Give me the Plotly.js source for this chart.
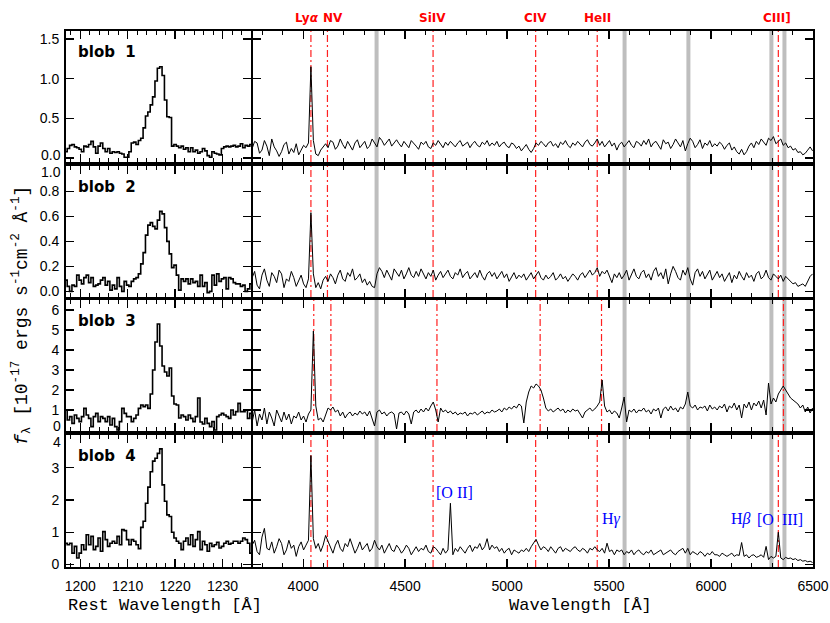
<!DOCTYPE html>
<html><head><meta charset="utf-8">
<script src="https://cdn.plot.ly/plotly-3.0.1.min.js"></script>
<style>html,body{margin:0;padding:0;background:#fff}#chart{width:830px;height:623px}</style>
</head><body><div id="chart"></div>
<script>
// ---- rest-frame Lya cut-outs (left column), start wavelength and bin step in Angstrom ----
const restStart = 1197, restStep = 0.5;
const blob1Rest = [0.08,0.12,0.16,0.17,0.14,0.13,0.11,0.08,0.15,0.14,
0.17,0.21,0.14,0.06,0.15,0.19,0.12,0.08,0.12,0.06,
0.08,0.07,0.08,0.06,0.05,0.01,0.01,0.08,0.19,0.20,
0.17,0.22,0.25,0.38,0.53,0.58,0.67,0.77,0.97,1.13,
1.15,1.04,0.73,0.52,0.51,0.15,0.17,0.15,0.13,0.15,
0.11,0.13,0.08,0.13,0.08,0.10,0.06,0.08,0.12,0.09,
0.03,0.01,0.08,0.06,0.05,0.04,0.12,0.14,0.15,0.14,
0.15,0.16,0.14,0.15,0.18,0.13,0.16,0.15,0.17];
const blob2Rest = [0.09,0.04,0.00,0.05,0.04,0.13,0.09,0.06,0.11,0.13,
0.07,0.11,0.04,0.05,0.06,0.09,0.11,0.05,0.08,0.01,
0.05,0.02,0.11,0.04,0.00,0.08,0.05,0.04,0.08,0.10,
0.11,0.14,0.22,0.31,0.45,0.53,0.55,0.52,0.50,0.57,
0.64,0.62,0.51,0.40,0.30,0.19,0.21,0.13,0.01,0.10,
0.08,0.10,0.06,0.10,0.07,0.08,0.04,0.13,0.04,0.07,
-0.01,0.00,0.13,0.05,0.14,0.08,0.10,0.11,0.02,0.11,
0.10,0.07,0.06,0.06,0.04,0.05,0.00,0.02,0.06];
const blob3Rest = [1.0,0.50,0.67,0.33,0.75,0.58,0.42,0.67,1.08,0.75,
0.58,0.17,0.67,0.83,0.42,0.67,0.58,0.42,0.67,0.25,
0.58,0.17,0.0,0.42,1.08,0.83,0.67,0.67,0.42,0.58,
0.75,1.08,1.25,1.17,1.25,1.08,1.8,3.0,4.4,5.3,
4.2,3.2,2.9,2.7,3.1,1.7,1.3,1.25,0.6,0.75,
0.67,0.5,0.75,0.58,0.42,0.67,1.6,0.4,0.3,0.58,
0.33,0.17,0.42,0.0,0.67,0.75,0.83,0.75,0.67,0.58,
1.0,0.75,0.92,1.33,0.92,0.92,1.0,0.58,0.83];
const blob4Rest = [0.66,0.61,0.66,0.35,0.56,0.20,0.35,0.61,0.46,0.92,
0.61,0.87,0.46,0.56,0.82,0.41,1.02,0.77,0.56,0.66,
0.72,0.66,0.87,0.61,1.08,1.05,0.77,0.61,0.77,0.72,
0.61,0.49,1.15,1.34,1.9,2.4,2.88,3.21,3.3,3.45,
3.59,2.47,1.96,1.54,1.49,1.0,0.82,0.72,0.66,0.46,
0.72,0.82,0.61,0.92,0.56,0.77,1.02,0.46,0.72,0.61,
0.41,0.66,0.56,0.61,0.69,0.51,0.56,0.66,0.72,0.63,
0.66,0.72,0.72,0.66,0.72,0.82,0.77,0.66,0.35];

// ---- observed-frame spectra (right column) ----
const obsStart = 3750, obsStep = 12;
const blob1Obs = [0.12,0.21,0.19,0.06,0.10,0.22,0.15,0.03,0.24,0.14,
0.09,0.02,0.08,0.17,0.20,0.05,0.12,0.07,0.18,0.04,
0.10,0.16,0.13,0.19,1.15,0.22,0.05,0.03,0.10,0.14,
0.18,0.13,0.22,0.20,0.11,0.15,0.24,0.17,0.12,0.21,
0.16,0.10,0.19,0.23,0.13,0.17,0.21,0.12,0.15,0.24,
0.19,0.14,0.26,0.22,0.16,0.20,0.24,0.15,0.19,0.23,
0.18,0.14,0.21,0.17,0.13,0.22,0.19,0.15,0.11,0.20,
0.17,0.21,0.14,0.12,0.19,0.16,0.22,0.18,0.13,0.20,
0.16,0.21,0.18,0.14,0.19,0.22,0.15,0.17,0.20,0.13,
0.18,0.21,0.16,0.14,0.20,0.17,0.22,0.15,0.19,0.16,
0.21,0.14,0.18,0.20,0.15,0.13,0.19,0.17,0.12,0.15,
0.09,0.13,0.17,0.11,0.07,0.12,0.19,0.16,0.21,0.18,
0.14,0.19,0.21,0.15,0.18,0.13,0.20,0.17,0.22,0.16,
0.13,0.19,0.16,0.21,0.18,0.14,0.20,0.23,0.17,0.15,
0.19,0.24,0.16,0.21,0.14,0.18,0.22,0.15,0.19,0.10,
0.17,0.20,0.14,0.18,0.22,0.16,0.13,0.21,0.19,0.15,
0.22,0.17,0.24,0.14,0.19,0.21,0.15,0.11,0.23,0.18,
0.20,0.12,0.17,0.24,0.19,0.14,0.22,0.09,0.18,0.25,
0.21,0.13,0.17,0.23,0.12,0.19,0.16,0.22,0.14,0.18,
0.15,0.20,0.17,0.11,0.16,0.19,0.10,0.14,0.08,0.05,
0.11,0.04,0.08,0.15,0.19,0.13,0.21,0.17,0.24,0.20,
0.16,0.25,0.22,0.27,0.18,0.21,0.24,0.16,0.19,0.13,
0.15,0.10,0.12,0.07,0.08,0.04,0.06,0.10,0.14,0.09];
const blob2Obs = [0.11,0.16,0.05,0.02,0.13,0.18,0.09,0.04,0.15,0.12,
0.07,0.17,0.14,0.03,0.10,0.08,0.16,0.11,0.04,0.09,
0.13,0.06,0.03,0.10,0.63,0.14,0.03,0.07,0.02,0.09,
0.12,0.08,0.14,0.11,0.06,0.13,0.17,0.10,0.08,0.15,
0.12,0.18,0.09,0.11,0.14,0.07,0.10,0.05,0.08,0.04,
0.03,0.14,0.19,0.16,0.11,0.17,0.13,0.09,0.18,0.15,
0.12,0.17,0.10,0.14,0.19,0.13,0.11,0.16,0.12,0.18,
0.14,0.10,0.15,0.12,0.17,0.09,0.13,0.16,0.11,0.14,
0.17,0.12,0.10,0.15,0.13,0.18,0.11,0.14,0.16,0.10,
0.13,0.15,0.11,0.17,0.12,0.09,0.14,0.16,0.12,0.15,
0.10,0.13,0.16,0.11,0.14,0.08,0.12,0.15,0.10,0.13,
0.11,0.14,0.09,0.12,0.15,0.10,0.13,0.16,0.11,0.09,
0.13,0.10,0.12,0.15,0.09,0.11,0.14,0.10,0.12,0.08,
0.11,0.14,0.12,0.09,0.13,0.15,0.11,0.14,0.17,0.13,
0.15,0.19,0.12,0.16,0.14,0.17,0.12,0.07,0.14,0.11,
0.15,0.10,0.13,0.17,0.09,0.14,0.18,0.12,0.10,0.15,
0.17,0.11,0.14,0.09,0.16,0.19,0.12,0.15,0.10,0.18,
0.06,0.14,0.20,0.16,0.11,0.09,0.17,0.13,0.19,0.10,
0.05,0.15,0.18,0.12,0.16,0.10,0.14,0.17,0.09,0.13,
0.16,0.11,0.14,0.08,0.12,0.15,0.07,0.13,0.10,0.16,
0.12,0.09,0.15,0.11,0.13,0.08,0.14,0.16,0.10,0.12,
0.17,0.11,0.09,0.14,0.12,0.10,0.13,0.08,0.12,0.10,
0.08,0.06,0.07,0.04,0.05,0.06,0.04,0.08,0.12,0.14];
const blob3Obs = [0.4,1.0,0.2,0.8,0.5,1.1,0.3,0.9,0.6,0.2,
1.0,0.7,0.4,0.9,0.5,0.8,0.3,0.7,0.6,0.9,
0.5,0.7,0.4,0.8,1.0,4.95,1.2,0.5,0.6,0.4,
0.8,1.1,1.0,1.15,0.9,1.0,0.7,0.9,0.6,0.8,
0.9,0.7,0.85,0.75,0.95,0.8,0.9,0.7,0.95,0.6,
0.2,0.9,1.0,0.8,0.9,0.7,0.85,0.9,0.8,0.05,
0.85,0.9,0.75,0.95,0.8,0.3,0.9,1.0,0.85,1.05,
0.9,1.1,0.95,1.2,1.4,1.0,0.4,1.1,0.9,1.0,
0.85,0.95,0.8,0.9,0.75,0.85,0.8,0.9,0.7,0.85,
0.8,0.9,0.75,0.85,0.95,0.8,0.9,0.85,1.0,0.9,
0.95,1.05,0.9,1.1,1.0,1.15,1.05,1.2,1.1,1.3,
1.2,0.35,1.4,1.9,2.2,2.1,2.3,2.2,2.0,1.6,
1.1,0.95,1.05,0.9,1.0,1.1,0.95,1.05,0.85,1.0,
0.9,1.05,0.95,1.0,0.8,0.6,0.9,1.0,1.1,0.95,
1.05,1.2,1.4,2.5,1.2,0.9,1.0,0.8,0.95,0.85,
0.6,1.1,1.65,0.4,1.0,0.9,1.05,0.85,1.0,0.95,
1.1,0.9,1.0,0.8,1.05,0.95,1.1,0.6,1.05,1.15,
0.95,1.2,1.0,1.1,0.9,1.15,1.05,1.3,1.9,1.2,
1.1,1.25,1.0,1.15,1.1,1.2,0.95,1.25,1.05,1.15,
1.0,1.2,1.1,1.3,0.9,1.2,1.1,1.35,1.0,1.25,
0.6,1.3,1.1,1.4,1.0,1.35,1.2,1.45,1.1,1.5,
0.75,2.35,1.3,1.6,1.4,1.8,2.0,2.2,2.0,1.8,
1.6,1.5,1.4,1.3,1.1,1.25,0.9,1.15,0.85,1.1];
const blob4Obs = [0.6,0.75,0.4,0.3,0.85,1.12,0.5,0.45,0.7,0.35,
0.55,0.8,0.65,0.3,0.45,0.75,0.5,0.6,0.25,0.55,
0.7,0.45,0.6,0.75,3.38,0.8,0.5,0.65,0.4,0.6,
0.9,0.7,0.5,0.35,0.6,0.75,0.5,0.4,0.65,0.55,
0.8,0.6,0.35,0.5,0.7,0.45,0.55,0.65,0.4,0.5,
0.75,0.55,0.45,0.6,0.35,0.5,0.65,0.45,0.4,0.6,
0.5,0.35,0.45,0.6,0.5,0.3,0.45,0.55,0.4,0.5,
0.45,0.6,0.4,0.35,0.55,0.5,0.4,0.3,0.5,0.35,
0.45,1.9,0.3,0.5,0.4,0.55,0.45,0.35,0.5,0.6,
0.4,0.55,0.5,0.65,0.45,0.55,0.8,0.45,0.6,0.5,
0.55,0.4,0.5,0.35,0.45,0.5,0.3,0.45,0.4,0.35,
0.45,0.4,0.5,0.4,0.55,0.65,0.78,0.6,0.45,0.55,
0.5,0.4,0.55,0.45,0.35,0.5,0.55,0.4,0.5,0.45,
0.4,0.5,0.55,0.45,0.4,0.5,0.45,0.35,0.5,0.45,
0.55,0.45,0.4,0.5,0.35,0.66,0.4,0.45,0.3,0.45,
0.4,0.45,0.3,0.4,0.35,0.45,0.3,0.4,0.45,0.35,
0.3,0.4,0.35,0.45,0.3,0.35,0.4,0.45,0.3,0.35,
0.4,0.45,0.35,0.3,0.4,0.45,0.5,0.35,0.5,0.3,
0.4,0.35,0.3,0.4,0.35,0.25,0.35,0.3,0.4,0.3,
0.3,0.25,0.35,0.3,0.25,0.3,0.35,0.25,0.3,0.28,
0.68,0.25,0.3,0.2,0.28,0.3,0.22,0.25,0.3,0.22,
0.56,0.15,0.25,0.2,0.25,1.0,0.2,0.15,0.22,0.18,
0.2,0.15,0.18,0.12,0.15,0.1,0.12,0.08,0.1,0.06];

// ---- features ----
const skyLines = [4360, 5576, 5889, 6296, 6360];
const lineWaveMain = [4038, 4119, 4637, 5140, 5442, 6330];   // blobs 1, 2, 4
const lineWaveBlob3 = [4052, 4136, 4656, 5162, 5463, 6355];  // blob 3
const lineNames = ['Ly<i>α</i>', 'NV', 'SiIV', 'CIV', 'HeII', 'CIII]'];
const lineLabelWave = [4019, 4146, 4635, 5138, 5442, 6325];
const lowzNames = ['[O II]', 'H<i>γ</i>', 'H<i>β</i>', '[O\u00a0\u00a0III]'];
const lowzWave = [4740, 5510, 6145, 6338];
const lowzLevel = [2.23, 1.41, 1.41, 1.41];
const blobNames = ['blob  1', 'blob  2', 'blob  3', 'blob  4'];
const restTickVals = [1200, 1210, 1220, 1230];
const obsTickVals = [4000, 4500, 5000, 5500, 6000, 6500];
// flux tick labels per row ('' = label drawn separately, nudged inside the panel)
const fluxTickVals = [[0, 0.5, 1, 1.5], [0, 0.2, 0.4, 0.6, 0.8, 1], [0, 1, 2, 3, 4, 5, 6], [0, 1, 2, 3, 4]];
const fluxTickText = [['', '0.5', '1.0', '1.5'], ['0.0', '0.2', '0.4', '0.6', '0.8', ''],
                      ['', '1', '2', '3', '4', '5', '6'], ['0', '1', '2', '3', '']];
const edgeLabels = ['0.0', '1.0', '0', '4'];

const restSets = [blob1Rest, blob2Rest, blob3Rest, blob4Rest];
const obsSets = [blob1Obs, blob2Obs, blob3Obs, blob4Obs];
const lineSets = [lineWaveMain, lineWaveMain, lineWaveBlob3, lineWaveMain];

// ---- layout geometry (pixels) ----
const W = 830, H = 623;
const rowTop = [31, 166, 300, 435], rowBot = [162, 297, 431, 567];
const edgeLabelY = [155, 172, 426, 442];
const leftX = [66, 251], rightX = [253, 813];
const yRanges = [[-0.05, 1.6], [-0.045, 1.003], [-0.05, 6.5], [-0.08, 4.02]];
const tickFont = {family: 'Liberation Sans, Arial, sans-serif', size: 14, color: '#000'};

const traces = [], shapes = [], annotations = [];
const layout = {
  width: W, height: H, margin: {l: 0, r: 0, t: 0, b: 0},
  paper_bgcolor: '#fff', plot_bgcolor: '#fff', showlegend: false,
  shapes: shapes, annotations: annotations
};

function axBase() {
  return {showline: true, linecolor: '#000', linewidth: 2, mirror: 'ticks',
    ticks: 'inside', ticklen: 8, tickwidth: 1.3, tickcolor: '#000',
    showgrid: false, zeroline: false, tickfont: tickFont, automargin: false, fixedrange: true};
}

for (let r = 0; r < 4; r++) {
  const iL = 2 * r + 1, iR = 2 * r + 2;
  const yDom = [1 - rowBot[r] / H, 1 - rowTop[r] / H];
  const last = r === 3;
  layout['xaxis' + iL] = Object.assign(axBase(), {
    domain: [leftX[0] / W, leftX[1] / W], range: [1197, 1236], anchor: 'y' + iL,
    tickmode: 'array', tickvals: restTickVals, showticklabels: last, ticklabelstandoff: 5,
    minor: {dtick: 2, tick0: 1200, ticks: 'inside', ticklen: 4, tickcolor: '#000', tickwidth: 1}
  });
  layout['yaxis' + iL] = Object.assign(axBase(), {
    domain: yDom, range: yRanges[r], anchor: 'x' + iL,
    tickmode: 'array', tickvals: fluxTickVals[r], ticktext: fluxTickText[r],
    showticklabels: true, ticklabelstandoff: 2
  });
  layout['xaxis' + iR] = Object.assign(axBase(), {
    domain: [rightX[0] / W, rightX[1] / W], range: [3754, 6500], anchor: 'y' + iR,
    tickmode: 'array', tickvals: obsTickVals, showticklabels: last, ticklabelstandoff: 5,
    minor: {dtick: 100, tick0: 4000, ticks: 'inside', ticklen: 4, tickcolor: '#000', tickwidth: 1}
  });
  layout['yaxis' + iR] = Object.assign(axBase(), {
    domain: yDom, range: yRanges[r], anchor: 'x' + iR,
    tickmode: 'array', tickvals: fluxTickVals[r], showticklabels: false
  });

  traces.push({type: 'scatter', mode: 'lines', x0: restStart, dx: restStep, y: restSets[r],
    xaxis: 'x' + iL, yaxis: 'y' + iL, line: {color: '#000', width: 1.6, shape: 'hvh'}, hoverinfo: 'skip'});
  traces.push({type: 'scatter', mode: 'lines', x0: obsStart, dx: obsStep, y: obsSets[r],
    xaxis: 'x' + iR, yaxis: 'y' + iR, line: {color: '#000', width: 1}, hoverinfo: 'skip'});

  skyLines.forEach(w => shapes.push({type: 'line', xref: 'x' + iR, yref: 'y' + iR + ' domain',
    x0: w, x1: w, y0: 0, y1: 1, layer: 'below', line: {color: '#bebebe', width: 4}}));
  lineSets[r].forEach(w => shapes.push({type: 'line', xref: 'x' + iR, yref: 'y' + iR + ' domain',
    x0: w, x1: w, y0: 0, y1: 1, layer: 'below', line: {color: '#ff2020', width: 1.2, dash: '7px,3px,2px,3px'}}));

  annotations.push({xref: 'paper', yref: 'paper', x: 76 / W, y: 1 - (rowTop[r] + 21) / H,
    xanchor: 'left', yanchor: 'middle', showarrow: false, text: '<b>' + blobNames[r] + '</b>',
    font: {family: 'DejaVu Sans, sans-serif', size: 15, color: '#000'}});
  annotations.push({xref: 'paper', yref: 'paper', x: 62.5 / W, y: 1 - edgeLabelY[r] / H,
    xanchor: 'right', yanchor: 'middle', showarrow: false, text: edgeLabels[r], font: tickFont});
}

lineNames.forEach((t, i) => annotations.push({xref: 'x2', yref: 'paper', x: lineLabelWave[i], y: 1 - 18 / H,
  xanchor: 'center', yanchor: 'middle', showarrow: false, text: '<b>' + t + '</b>',
  font: {family: 'DejaVu Sans, sans-serif', size: 12, color: '#ff0000'}}));

lowzNames.forEach((t, i) => annotations.push({xref: 'x8', yref: 'y8', x: lowzWave[i], y: lowzLevel[i],
  xanchor: 'center', yanchor: 'middle', showarrow: false, text: t,
  font: {family: 'Liberation Serif, serif', size: 16, color: '#0000ff'}}));

const titleFont = {family: 'Liberation Mono, monospace', size: 17, color: '#000'};
annotations.push({xref: 'paper', yref: 'paper', x: 165 / W, y: 1 - 605 / H, showarrow: false,
  xanchor: 'center', yanchor: 'middle', text: 'Rest Wavelength [Å]', font: titleFont});
annotations.push({xref: 'paper', yref: 'paper', x: 580 / W, y: 1 - 605 / H, showarrow: false,
  xanchor: 'center', yanchor: 'middle', text: 'Wavelength [Å]', font: titleFont});
annotations.push({xref: 'paper', yref: 'paper', x: 21 / W, y: 1 - 316 / H, showarrow: false,
  xanchor: 'center', yanchor: 'middle', textangle: -90,
  text: '<i>f</i><sub>λ</sub> [10<sup>-17</sup> ergs s<sup>-1</sup>cm<sup>-2</sup> Å<sup>-1</sup>]',
  font: {family: 'Liberation Mono, monospace', size: 18, color: '#000'}});

Plotly.newPlot('chart', traces, layout, {staticPlot: true, displayModeBar: false});
</script></body></html>
